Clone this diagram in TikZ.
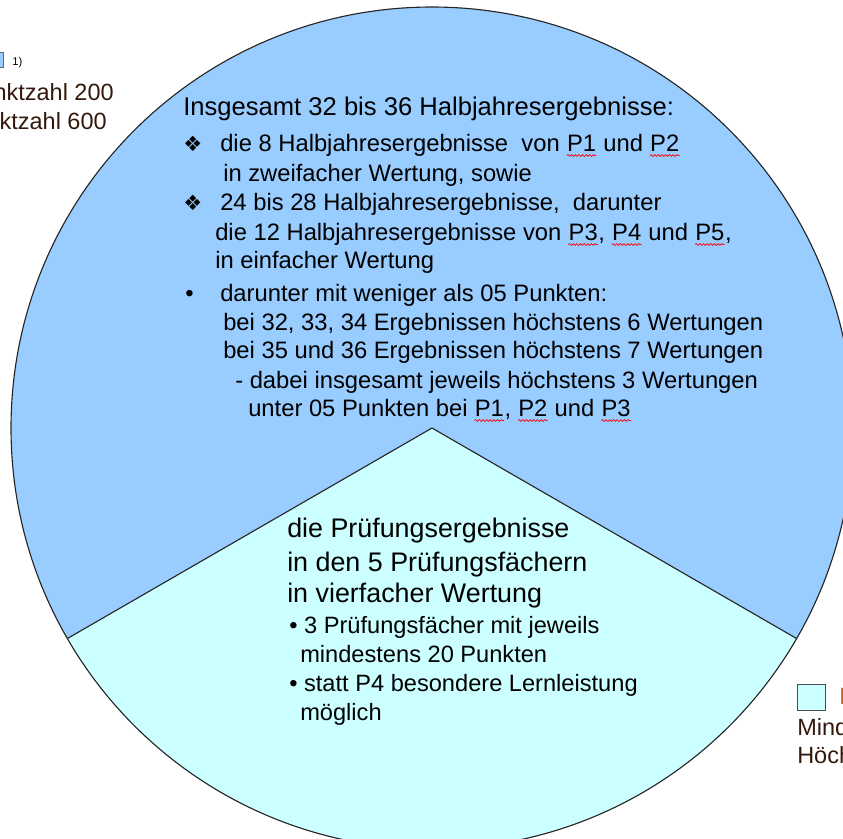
\documentclass[tikz,border=0pt]{standalone}
\usepackage{fontspec}
\setmainfont{Liberation Sans}
\newfontfamily\dingfont{DejaVu Sans}
\usetikzlibrary{decorations.pathmorphing}

\definecolor{blockone}{HTML}{99CCFF}
\definecolor{blocktwo}{HTML}{CCFFFF}
\definecolor{legendtxt}{HTML}{33190C}
\definecolor{legendorange}{HTML}{C8641E}

% word with red spell-check wave
\newcommand{\spell}[1]{\tikz[baseline=(sp.base)]{\node[inner sep=0pt, anchor=base] (sp) {#1};
    \draw[red, line width=0.5pt, decorate, decoration={snake, amplitude=0.65pt, segment length=2.6pt}]
    ([yshift=-3.2pt]sp.base west) -- ([yshift=-3.2pt]sp.base east);}}

\begin{document}
\begin{tikzpicture}[x=0.025cm, y=-0.025cm]
    % Define styles
    \tikzstyle{title} = [anchor=base west, inner sep=0pt, font=\fontsize{18.2}{21}\selectfont]
    \tikzstyle{txt} = [anchor=base west, inner sep=0pt, font=\fontsize{16.9}{20}\selectfont]
    \tikzstyle{bigtxt} = [anchor=base west, inner sep=0pt, font=\fontsize{19.1}{22}\selectfont]
    \tikzstyle{smalltxt} = [anchor=base west, inner sep=0pt, font=\fontsize{16.8}{20}\selectfont]
    \tikzstyle{ding} = [anchor=base west, inner sep=0pt, font=\dingfont\fontsize{15}{17}\selectfont]
    \tikzstyle{legend} = [anchor=base east, inner sep=0pt, text=legendtxt, font=\fontsize{16.7}{20}\selectfont]
    \tikzstyle{outline} = [draw=black!85, line width=0.8pt]

    \useasboundingbox (0,0) rectangle (843,838);
    \clip (0,0) rectangle (843,838);

    % Pie
    \coordinate (c) at (432,428);
    \fill[blockone] (c) circle[radius=421];
    \fill[blocktwo] (c) -- ([shift={(150:421)}]c) arc[start angle=150, end angle=30, radius=421] -- cycle;
    \draw[outline] ([shift={(150:421)}]c) -- (c) -- ([shift={(30:421)}]c);
    \draw[outline] (c) circle[radius=421];

    % Legend (left, cut off)
    \filldraw[fill=blockone, draw=black!60] (-20,52) rectangle (3,67);
    \node[anchor=base west, inner sep=0pt, font=\fontsize{8}{9}\selectfont] (fn) at (12,65) {1)};
    \node[legend] (minone) at (114,100) {Mindestpunktzahl 200};
    \node[legend] (maxone) at (107,129) {Höchstpunktzahl 600};

    % Legend (right, cut off)
    \filldraw[fill=blocktwo, draw=black!70] (797,684) rectangle (825,710);
    \node[anchor=base west, inner sep=0pt, text=legendorange, font=\fontsize{16.7}{20}\selectfont] (blk) at (839,704) {B};
    \node[legend, anchor=base west] (mintwo) at (797,735) {Mindestpunktzahl};
    \node[legend, anchor=base west] (maxtwo) at (797,763) {Höchstpunktzahl};

    % Halbjahresergebnisse
    \node[title] (head) at (183,115) {Insgesamt 32 bis 36 Halbjahresergebnisse:};
    \node[ding] (d1) at (183,151) {❖};
    \node[txt] (a1) at (220,151) {die 8 Halbjahresergebnisse\ \ von \spell{P1} und \spell{P2}};
    \node[txt] (a2) at (223,181) {in zweifacher Wertung, sowie};
    \node[ding] (d2) at (183,210) {❖};
    \node[txt] (a3) at (220,210) {24 bis 28 Halbjahresergebnisse,\ \ darunter};
    \node[txt] (a4) at (215,240) {die 12 Halbjahresergebnisse von \spell{P3}, \spell{P4} und \spell{P5},};
    \node[txt] (a5) at (215,268) {in einfacher Wertung};
    \node[txt] (d3) at (185,301) {•};
    \node[txt] (a6) at (220,301) {darunter mit weniger als 05 Punkten:};
    \node[txt] (a7) at (223,330) {bei 32, 33, 34 Ergebnissen höchstens 6 Wertungen};
    \node[txt] (a8) at (223,358) {bei 35 und 36 Ergebnissen höchstens 7 Wertungen};
    \node[txt] (a9) at (235,388) {- dabei insgesamt jeweils höchstens 3 Wertungen};
    \node[txt] (a10) at (248,416) {unter 05 Punkten bei \spell{P1}, \spell{P2} und \spell{P3}};

    % Pruefungsergebnisse
    \node[bigtxt] (p1) at (287,537) {die Prüfungsergebnisse};
    \node[bigtxt] (p2) at (287,571) {in den 5 Prüfungsfächern};
    \node[bigtxt] (p3) at (287,602) {in vierfacher Wertung};
    \node[smalltxt] (p4) at (289,633) {• 3 Prüfungsfächer mit jeweils};
    \node[smalltxt] (p5) at (300,662) {mindestens 20 Punkten};
    \node[smalltxt] (p6) at (289,691) {• statt P4 besondere Lernleistung};
    \node[smalltxt] (p7) at (300,720) {möglich};
\end{tikzpicture}
\end{document}
